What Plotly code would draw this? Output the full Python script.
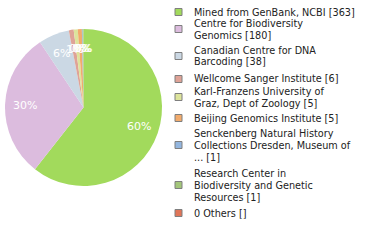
import math
import plotly.graph_objects as go

# ---- data ----
labels = [
    "Mined from GenBank, NCBI",
    "Centre for Biodiversity Genomics",
    "Canadian Centre for DNA Barcoding",
    "Wellcome Sanger Institute",
    "Karl-Franzens University of Graz, Dept of Zoology",
    "Beijing Genomics Institute",
    "Senckenberg Natural History Collections Dresden, Museum of ...",
    "Research Center in Biodiversity and Genetic Resources",
    "0 Others",
]
values = [363, 180, 38, 6, 5, 5, 1, 1, 0]
legend_lines = [
    ["Mined from GenBank, NCBI [363]"],
    ["Centre for Biodiversity", "Genomics [180]"],
    ["Canadian Centre for DNA", "Barcoding [38]"],
    ["Wellcome Sanger Institute [6]"],
    ["Karl-Franzens University of", "Graz, Dept of Zoology [5]"],
    ["Beijing Genomics Institute [5]"],
    ["Senckenberg Natural History", "Collections Dresden, Museum of", "... [1]"],
    ["Research Center in", "Biodiversity and Genetic", "Resources [1]"],
    ["0 Others []"],
]

# ---- style / layout ----
colors = ["#a2da5c", "#dcbcde", "#cbd8e4", "#dfa397", "#dde49c",
          "#f2ab6c", "#93b6df", "#a3c67a", "#e07558"]
W, H = 380, 240
PIE_X0, PIE_X1, PIE_Y0, PIE_Y1 = 5, 162, 29, 186   # pixel box of the pie
legend_first_line = [12, 23, 50, 79, 91, 118, 133, 173, 213]  # pixel y of first text line
LINE_H = 12

fig = go.Figure(go.Pie(
    labels=labels,
    values=values,
    sort=False,
    direction="clockwise",
    rotation=0,
    marker=dict(colors=colors, line=dict(width=0)),
    textinfo="none",
    showlegend=False,
    hoverinfo="label+value+percent",
    domain=dict(x=[PIE_X0 / W, PIE_X1 / W], y=[1 - PIE_Y1 / H, 1 - PIE_Y0 / H]),
))

annotations = []
shapes = []

# percentage labels (truncated percentages, placed at 3/4 radius of each slice)
total = sum(values)
cx, cy = (PIE_X0 + PIE_X1) / 2, (PIE_Y0 + PIE_Y1) / 2
R = (PIE_X1 - PIE_X0) / 2
cum = 0
for v in values:
    if v > 0:
        mid = (cum + v / 2) / total * 2 * math.pi
        px = cx + 0.75 * R * math.sin(mid)
        py = cy - 0.75 * R * math.cos(mid)
        annotations.append(dict(
            text=f"{math.floor(v / total * 100)}%", xref="paper", yref="paper",
            x=px / W, y=1 - py / H, xanchor="center", yanchor="middle",
            showarrow=False,
            font=dict(family="DejaVu Sans", size=11, color="white"),
        ))
    cum += v

# legend
for lines, col, y0 in zip(legend_lines, colors, legend_first_line):
    yc = y0 + (len(lines) - 1) * LINE_H / 2
    shapes.append(dict(
        type="rect", xref="paper", yref="paper",
        x0=175 / W, x1=182 / W, y0=1 - (yc + 3.5) / H, y1=1 - (yc - 3.5) / H,
        fillcolor=col, line=dict(color="#7f7f7f", width=1),
    ))
    for i, line in enumerate(lines):
        annotations.append(dict(
            text=line, xref="paper", yref="paper", x=192 / W,
            y=1 - (y0 + i * LINE_H) / H,
            xanchor="left", yanchor="middle", align="left", showarrow=False,
            font=dict(family="DejaVu Sans", size=9.7, color="#222222"),
        ))

fig.update_layout(
    width=W, height=H,
    margin=dict(l=0, r=0, t=0, b=0),
    paper_bgcolor="white", plot_bgcolor="white",
    shapes=shapes, annotations=annotations,
)

fig.write_html("out.html")
